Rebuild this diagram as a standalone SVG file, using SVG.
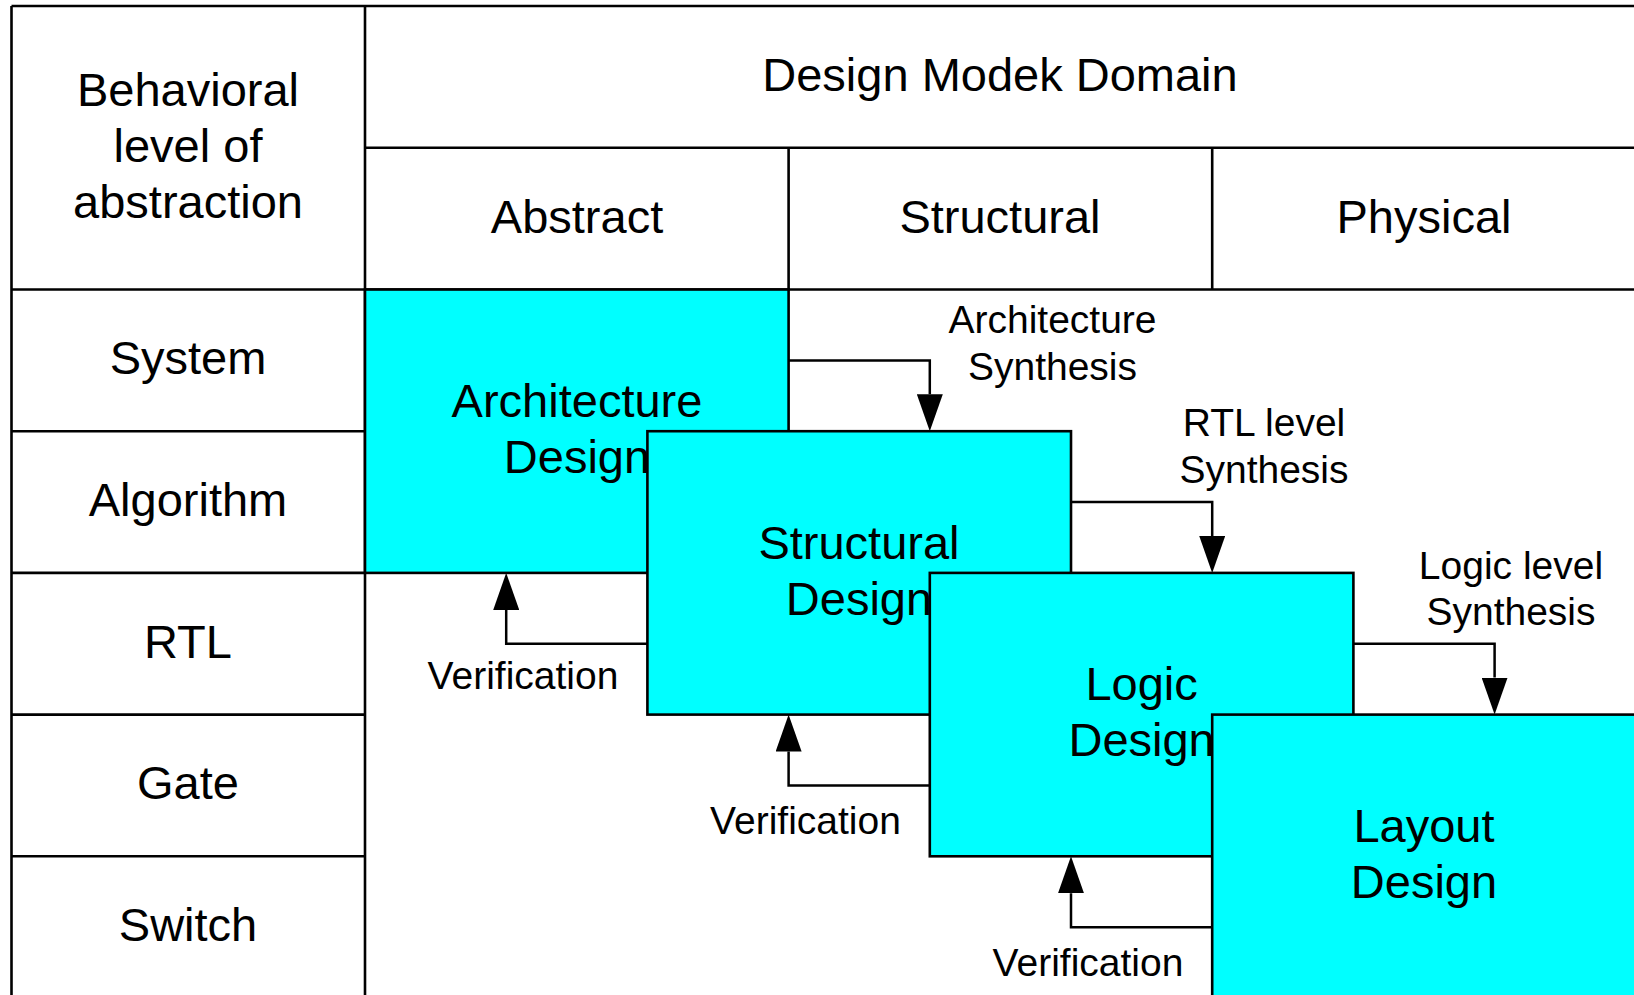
<svg xmlns="http://www.w3.org/2000/svg" width="1634" height="995" viewBox="0 0 1634 995">
  <style>
    .grid { stroke: #000; stroke-width: 2.6; fill: none; }
    .box { fill: #00FFFF; stroke: #000; stroke-width: 2.6; }
    .conn { stroke: #000; stroke-width: 2.5; fill: none; marker-end: url(#ah); }
    text { font-family: "Liberation Sans", Arial, sans-serif; fill: #000; text-anchor: middle; }
    .big { font-size: 47px; }
    .small { font-size: 39px; }
  </style>
  <defs>
    <marker id="ah" markerUnits="userSpaceOnUse" markerWidth="37" markerHeight="26" viewBox="0 0 37 26" refX="0" refY="13" orient="auto">
      <path d="M0,0 L37,13 L0,26 z" fill="#000"/>
    </marker>
  </defs>

  <rect x="0" y="0" width="1634" height="995" fill="#fff"/>

  <!-- table frame and header cells -->
  <g id="table">
    <path class="grid" d="M11.5,6 H1640 M365,147.8 H1640 M11.5,289.5 H1640
                          M11.5,431.2 H365 M11.5,572.9 H365 M11.5,714.6 H365 M11.5,856.3 H365
                          M11.5,6 V1000 M365,6 V1000
                          M788.6,147.8 V289.5 M1212.2,147.8 V289.5"/>
    <text class="big" x="188" y="105.5">Behavioral</text>
    <text class="big" x="188" y="161.5">level of</text>
    <text class="big" x="188" y="217.5">abstraction</text>
    <text class="big" x="1000" y="91">Design Modek Domain</text>
    <text class="big" x="577" y="233">Abstract</text>
    <text class="big" x="1000" y="233">Structural</text>
    <text class="big" x="1424" y="233">Physical</text>
    <text class="big" x="188" y="373.5">System</text>
    <text class="big" x="188" y="515.5">Algorithm</text>
    <text class="big" x="188" y="657.5">RTL</text>
    <text class="big" x="188" y="798.5">Gate</text>
    <text class="big" x="188" y="940.5">Switch</text>
  </g>

  <!-- design stages, each drawn over the previous one -->
  <g id="architecture-design">
    <rect class="box" x="365" y="289.5" width="423.6" height="283.4"/>
    <text class="big" x="577" y="417">Architecture</text>
    <text class="big" x="577" y="473">Design</text>
  </g>
  <g id="structural-design">
    <rect class="box" x="647.4" y="431.2" width="423.6" height="283.4"/>
    <text class="big" x="859" y="558.5">Structural</text>
    <text class="big" x="859" y="614.5">Design</text>
  </g>
  <g id="logic-design">
    <rect class="box" x="929.8" y="572.9" width="423.6" height="283.4"/>
    <text class="big" x="1141.6" y="700">Logic</text>
    <text class="big" x="1141.6" y="756">Design</text>
  </g>
  <g id="layout-design">
    <rect class="box" x="1212.2" y="714.6" width="430" height="290"/>
    <text class="big" x="1424" y="841.5">Layout</text>
    <text class="big" x="1424" y="897.5">Design</text>
  </g>

  <!-- synthesis and verification connectors -->
  <g id="connectors">
    <path class="conn" d="M788.6,360.4 H929.8 V394.2"/>
    <path class="conn" d="M1071,502 H1212.2 V535.9"/>
    <path class="conn" d="M1353.4,643.8 H1494.6 V677.6"/>
    <path class="conn" d="M647.4,643.8 H506.2 V609.9"/>
    <path class="conn" d="M929.8,785.5 H788.6 V751.6"/>
    <path class="conn" d="M1212.2,927.2 H1071 V893.3"/>
  </g>

  <g id="labels">
    <text class="small" x="1052.5" y="333">Architecture</text>
    <text class="small" x="1052.5" y="380">Synthesis</text>
    <text class="small" x="1264" y="435.5">RTL level</text>
    <text class="small" x="1264" y="482.5">Synthesis</text>
    <text class="small" x="1511" y="578.5">Logic level</text>
    <text class="small" x="1511" y="625">Synthesis</text>
    <text class="small" x="523" y="688.5">Verification</text>
    <text class="small" x="805.5" y="834">Verification</text>
    <text class="small" x="1088" y="975.5">Verification</text>
  </g>
</svg>
